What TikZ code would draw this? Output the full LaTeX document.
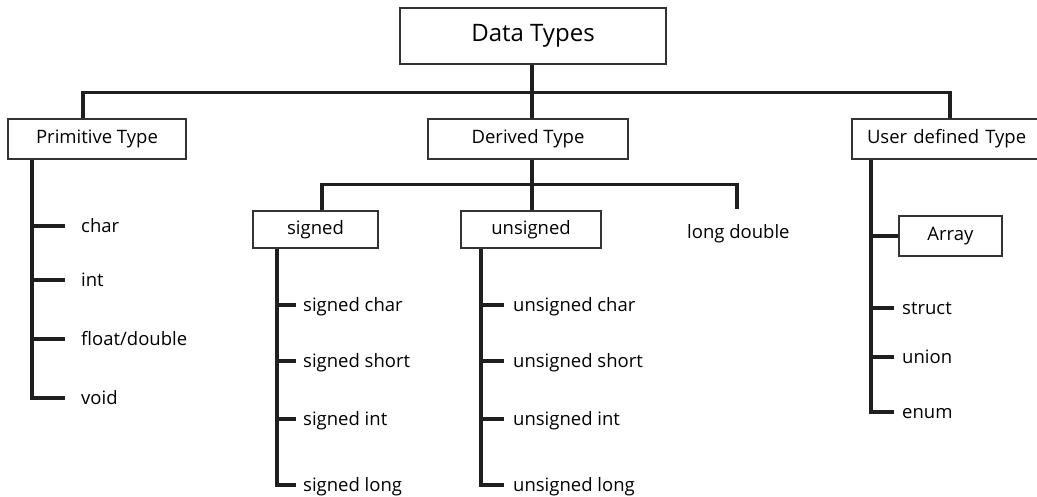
\documentclass[tikz,border=0pt]{standalone}
\usepackage{fontspec}
\setmainfont{Open Sans}
\begin{document}
\begin{tikzpicture}[x=1pt,y=-1pt,
  box/.style={draw=black!80, line width=1.4pt, inner sep=0pt, minimum height=40pt,
    font=\fontsize{18.5}{20}\selectfont, text=black},
  leaf/.style={anchor=west, inner sep=0pt, text height=14pt, text depth=2pt,
    font=\fontsize{18.5}{20}\selectfont, text=black},
  conn/.style={line width=3.3pt, draw=black!88}]
\useasboundingbox (0,0) rectangle (1037,496);
\fill[white] (0,0) rectangle (1037,496);

% boxes
\node[box, minimum width=266pt, minimum height=56pt, font=\fontsize{24}{26}\selectfont] (dt) at (533,36) {Data Types};
\node[box, minimum width=178pt] (prim) at (97,139) {Primitive Type};
\node[box, minimum width=200pt] (der) at (528,139) {Derived Type};
\node[box, minimum width=194pt, text width=164pt, align=left] (user) at (949,139) {User defined Type};
\node[box, minimum width=125pt, minimum height=37pt] (sig) at (315.5,229.5) {signed};
\node[box, minimum width=140pt, minimum height=37pt] (uns) at (531,229.5) {unsigned};
\node[box, minimum width=103pt] (arr) at (950.5,236) {Array};

% leaves
\node[leaf] (char) at (81,226) {char};
\node[leaf] (int) at (81,280) {int};
\node[leaf] (flt) at (81,339) {float/double};
\node[leaf] (void) at (81,398) {void};
\node[leaf] (ld) at (687,232) {long double};
\node[leaf] (sc) at (303,305) {signed char};
\node[leaf] (ss) at (303,361) {signed short};
\node[leaf] (si) at (303,419) {signed int};
\node[leaf] (sl) at (303,485) {signed long};
\node[leaf] (uc) at (513,305) {unsigned char};
\node[leaf] (us) at (513,361) {unsigned short};
\node[leaf] (ui) at (513,419) {unsigned int};
\node[leaf] (ul) at (513,485) {unsigned long};
\node[leaf] (st) at (902,308) {struct};
\node[leaf] (un) at (902,357) {union};
\node[leaf] (en) at (902,412) {enum};

% helper x positions
\coordinate (pbx) at (83,0);
\coordinate (dx) at (532,0);
\coordinate (ubx) at (950,0);
\coordinate (px) at (32,0);
\coordinate (sbx) at (322,0);
\coordinate (sx) at (277,0);
\coordinate (ux) at (481,0);
\coordinate (uvx) at (871,0);
\coordinate (ldtop) at (737,209);

% top level
\draw[conn] (prim.north -| pbx) -- ++(0,-26) -| (user.north -| ubx);
\draw[conn] (dt.south -| dx) -- (der.north -| dx);

% derived level
\draw[conn] (sig.north -| sbx) -- ++(0,-26) -| (ldtop);
\draw[conn] (der.south -| dx) -- (uns.north -| dx);

% primitive children
\draw[conn] (prim.south -| px) |- ([xshift=-16pt]void.west);
\foreach \n in {char,int,flt}
  \draw[conn] (px |- \n.west) -- ([xshift=-16pt]\n.west);

% signed children
\draw[conn] (sig.south -| sx) |- ([xshift=-7pt]sl.west);
\foreach \n in {sc,ss,si}
  \draw[conn] (sx |- \n.west) -- ([xshift=-7pt]\n.west);

% unsigned children
\draw[conn] (uns.south -| ux) |- ([xshift=-9pt]ul.west);
\foreach \n in {uc,us,ui}
  \draw[conn] (ux |- \n.west) -- ([xshift=-9pt]\n.west);

% user defined children
\draw[conn] (user.south -| uvx) |- ([xshift=-8pt]en.west);
\draw[conn] (uvx |- arr.west) -- (arr.west);
\foreach \n in {st,un}
  \draw[conn] (uvx |- \n.west) -- ([xshift=-8pt]\n.west);
\end{tikzpicture}
\end{document}
